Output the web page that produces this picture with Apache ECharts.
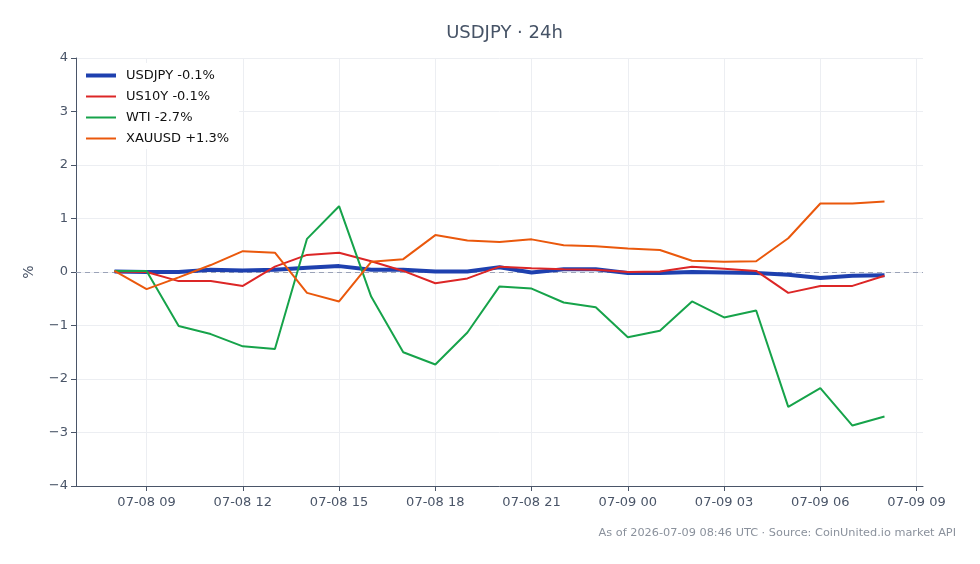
<!DOCTYPE html>
<html><head><meta charset="utf-8">
<script src="https://cdn.jsdelivr.net/npm/echarts@6/dist/echarts.min.js"></script>
<style>html,body{margin:0;padding:0;background:#fff}#c{width:980px;height:564px}</style>
</head><body><div id="c"></div>
<script>
const times = ['2026-07-08T08:00Z','2026-07-08T09:00Z','2026-07-08T10:00Z','2026-07-08T11:00Z','2026-07-08T12:00Z','2026-07-08T13:00Z','2026-07-08T14:00Z','2026-07-08T15:00Z','2026-07-08T16:00Z','2026-07-08T17:00Z','2026-07-08T18:00Z','2026-07-08T19:00Z','2026-07-08T20:00Z','2026-07-08T21:00Z','2026-07-08T22:00Z','2026-07-08T23:00Z','2026-07-09T00:00Z','2026-07-09T01:00Z','2026-07-09T02:00Z','2026-07-09T03:00Z','2026-07-09T04:00Z','2026-07-09T05:00Z','2026-07-09T06:00Z','2026-07-09T07:00Z','2026-07-09T08:00Z'];
const xTickTimes = ['2026-07-08T09:00Z','2026-07-08T12:00Z','2026-07-08T15:00Z','2026-07-08T18:00Z','2026-07-08T21:00Z','2026-07-09T00:00Z','2026-07-09T03:00Z','2026-07-09T06:00Z','2026-07-09T09:00Z'];
const usdjpy = [0.01,0.0,0.0,0.04,0.03,0.04,0.08,0.11,0.04,0.04,0.01,0.01,0.09,-0.01,0.05,0.05,-0.02,-0.02,0.0,-0.01,-0.02,-0.05,-0.11,-0.07,-0.06];
const us10y = [0.01,0.0,-0.17,-0.17,-0.26,0.1,0.32,0.36,0.2,0.02,-0.21,-0.12,0.1,0.07,0.05,0.04,0.0,0.01,0.1,0.06,0.02,-0.39,-0.26,-0.26,-0.07];
const wti = [0.02,0.02,-1.01,-1.16,-1.39,-1.44,0.62,1.23,-0.46,-1.5,-1.73,-1.13,-0.27,-0.31,-0.57,-0.66,-1.22,-1.1,-0.55,-0.85,-0.72,-2.52,-2.17,-2.87,-2.7];
const xauusd = [0.02,-0.32,-0.1,0.13,0.39,0.36,-0.39,-0.55,0.19,0.24,0.69,0.59,0.56,0.61,0.5,0.48,0.44,0.41,0.21,0.19,0.2,0.63,1.28,1.28,1.32];
const seriesNames = ['USDJPY -0.1%','US10Y -0.1%','WTI -2.7%','XAUUSD +1.3%'];
const colors = ['#1e40af','#dc2626','#16a34a','#ea580c'];
const yTicks = [-4,-3,-2,-1,0,1,2,3,4];
const titleText = 'USDJPY · 24h';
const footText = 'As of 2026-07-09 08:46 UTC · Source: CoinUnited.io market API';

const tms = times.map(t => Date.parse(t));
const xTicks = xTickTimes.map(t => Date.parse(t));
const pairs = arr => arr.map((v,i) => [tms[i], v]);
const span = tms[tms.length-1] - tms[0];
const xMin = tms[0] - 0.05*span, xMax = tms[tms.length-1] + 0.05*span;
const pad2 = n => String(n).padStart(2,'0');
const font = "'DejaVu Sans', sans-serif";
const chart = echarts.init(document.getElementById('c'));
const allSeries = [usdjpy, us10y, wti, xauusd];
const gridColor = '#eceef2';
chart.setOption({
  animation: false,
  textStyle: {fontFamily: font},
  title: {text: titleText, left: 499.5, textAlign: 'center', top: 19,
    textStyle: {fontSize: 18, fontWeight: 'normal', color: '#465366', fontFamily: font}},
  graphic: [{type: 'text', right: 24, top: 528, style: {text: footText, fill: '#8a919c', font: "11.3px 'DejaVu Sans'"}}],
  legend: {orient: 'vertical', left: 78, top: 63, itemWidth: 30, itemHeight: 10, itemGap: 8,
    padding: [6, 10, 4, 8], backgroundColor: '#ffffff', z: 10,
    textStyle: {fontSize: 13, color: '#111', fontFamily: font, padding: [0, 0, 0, 5]},
    data: seriesNames.map((n, k) => ({name: n, icon: k === 0 ? 'path://M0,0 L30,0 L30,4 L0,4 Z' : 'path://M0,0 L30,0 L30,2 L0,2 Z'}))},
  grid: {left: 76, right: 57, top: 58, bottom: 78},
  xAxis: {type: 'value', min: xMin, max: xMax,
    axisLine: {onZero: false, lineStyle: {color: '#4a5568'}},
    axisTick: {show: true, customValues: xTicks, lineStyle: {color: '#4a5568'}},
    splitLine: {show: false},
    axisLabel: {color: '#4a5568', fontSize: 13, margin: 10, customValues: xTicks,
      formatter: v => { const d = new Date(v); return pad2(d.getUTCMonth()+1)+'-'+pad2(d.getUTCDate())+' '+pad2(d.getUTCHours()); }}},
  yAxis: {type: 'value', min: yTicks[0], max: yTicks[yTicks.length-1], interval: 1,
    name: '%', nameLocation: 'middle', nameGap: 40, nameTextStyle: {color: '#4a5568', fontSize: 14},
    axisLine: {show: true, lineStyle: {color: '#4a5568'}},
    axisTick: {show: true, lineStyle: {color: '#4a5568'}},
    splitLine: {show: true, lineStyle: {color: gridColor}},
    axisLabel: {color: '#4a5568', fontSize: 13, formatter: v => v < 0 ? '\u2212' + Math.abs(v) : String(v)}},
  series: allSeries.map((arr, k) => ({
    name: seriesNames[k], type: 'line', data: pairs(arr), showSymbol: false, symbol: 'none',
    color: colors[k], lineStyle: {width: k === 0 ? 4 : 2, color: colors[k]}, z: k === 0 ? 2 : 2.1 + k * 0.1,
    markLine: k === 0 ? {silent: true, symbol: 'none', label: {show: false}, z: 1,
      lineStyle: {type: [5,4], color: '#9ba3b8', width: 1}, data: [{yAxis: 0}]} : undefined
  })).concat([{
    name: 'vgrid', type: 'line', data: [], silent: true, z: 0,
    markLine: {silent: true, symbol: 'none', label: {show: false}, animation: false, z: 0,
      lineStyle: {type: 'solid', color: gridColor, width: 1}, data: xTicks.map(t => ({xAxis: t}))}
  }])
});
</script></body></html>
